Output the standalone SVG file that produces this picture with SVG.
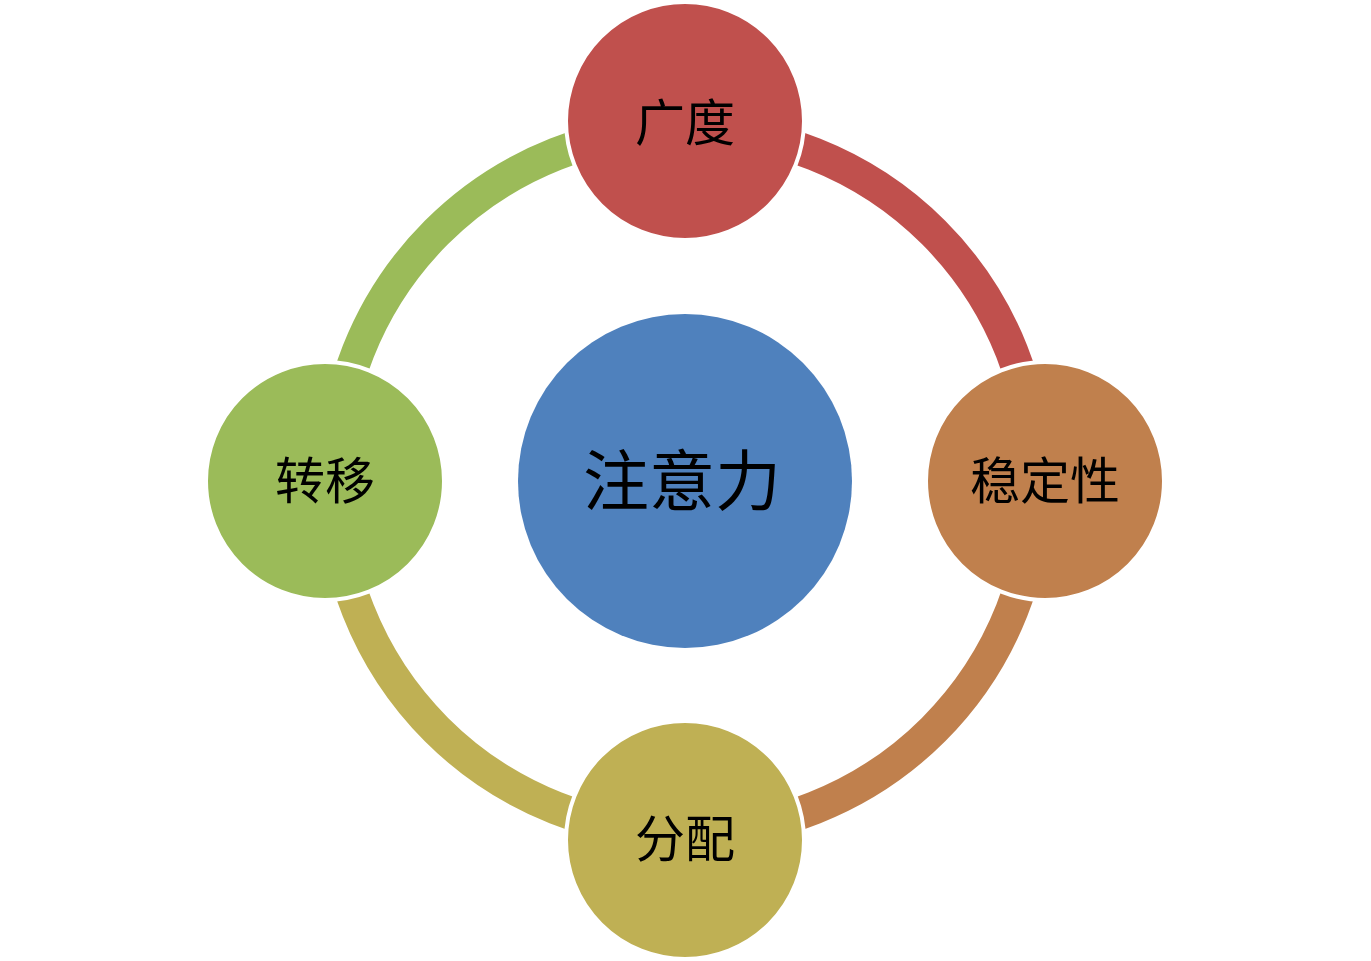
<svg xmlns="http://www.w3.org/2000/svg" width="1371" height="961" viewBox="0 0 1371 961">
<style>
.arc{fill:none;stroke-width:33}
.node{stroke:#ffffff;stroke-width:4}
.lbl{font-family:"Noto Sans CJK SC","Noto Sans",sans-serif;font-size:50px;fill:#000000;text-anchor:middle}
</style>
<rect width="1371" height="961" fill="#ffffff"/>
<g id="connectors">
<path class="arc" stroke="#C0504D" d="M685,129.5 A351.5,351.5 0 0 1 1036.5,481"/>
<path class="arc" stroke="#C0804D" d="M1036.5,481 A351.5,351.5 0 0 1 685,832.5"/>
<path class="arc" stroke="#BFB054" d="M685,832.5 A351.5,351.5 0 0 1 333.5,481"/>
<path class="arc" stroke="#9BBB59" d="M333.5,481 A351.5,351.5 0 0 1 685,129.5"/>
</g>
<g id="center">
<circle cx="685" cy="481" r="167" fill="#4F81BD"/>
<text class="lbl" x="682" y="505" style="font-size:66px">注意力</text>
</g>
<g id="top">
<circle class="node" cx="685" cy="121" r="119" fill="#C0504D"/>
<text class="lbl" x="685" y="141">广度</text>
</g>
<g id="right">
<circle class="node" cx="1045" cy="481" r="119" fill="#C0804D"/>
<text class="lbl" x="1045" y="499">稳定性</text>
</g>
<g id="bottom">
<circle class="node" cx="685" cy="840" r="119" fill="#BFB054"/>
<text class="lbl" x="685" y="857">分配</text>
</g>
<g id="left">
<circle class="node" cx="325" cy="481" r="119" fill="#9BBB59"/>
<text class="lbl" x="325" y="499">转移</text>
</g>
</svg>
